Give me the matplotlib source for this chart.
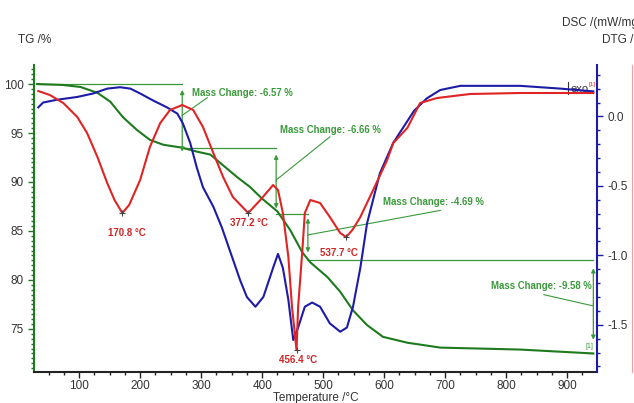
import matplotlib
matplotlib.use("Agg")
import matplotlib.pyplot as plt
from matplotlib.ticker import MultipleLocator, FormatStrFormatter

plt.rcParams['font.family'] = ['Liberation Sans', 'DejaVu Sans']

# TG curve (mass %, left axis)
temp_tg = [31, 74, 102, 130, 151, 172, 195, 216, 238, 269, 293, 315, 336, 359, 380, 400,
           425, 446, 466, 479, 507, 528, 549, 572, 598, 638, 692, 823, 943]
tg = [100.0, 99.9, 99.7, 99.1, 98.2, 96.6, 95.3, 94.3, 93.8, 93.5, 93.1, 92.8, 91.7,
      90.5, 89.5, 88.3, 87.0, 85.1, 82.8, 81.8, 80.3, 78.8, 76.9, 75.4, 74.2, 73.6,
      73.1, 72.9, 72.5]

# DSC curve (mW/mg, right axis)
temp_dsc = [33, 41, 64, 97, 123, 146, 167, 184, 200, 221, 244, 261, 270, 282, 293, 303,
            320, 334, 364, 375, 389, 402, 418, 426, 434, 443, 451, 459, 470, 482, 495,
            511, 528, 539, 549, 561, 572, 593, 615, 649, 670, 692, 725, 823, 889, 943]
dsc = [0.065, 0.10, 0.12, 0.14, 0.165, 0.20, 0.21, 0.20, 0.165, 0.115, 0.065, 0.02,
       -0.05, -0.19, -0.37, -0.51, -0.65, -0.80, -1.18, -1.30, -1.37, -1.30, -1.09,
       -0.99, -1.09, -1.32, -1.61, -1.52, -1.37, -1.34, -1.37, -1.49, -1.55, -1.52,
       -1.37, -1.09, -0.77, -0.41, -0.19, 0.04, 0.13, 0.19, 0.22, 0.22, 0.20, 0.18]

# DTG curve (%/min, outer axis)
temp_dtg = [33, 52, 74, 97, 113, 130, 146, 158, 170.8, 182, 200, 216, 233, 249, 269, 287,
            303, 320, 336, 352, 377.2, 397, 418, 426, 434, 443, 449, 456.4, 459, 466,
            470, 479, 495, 511, 528, 537.7, 548, 561, 582, 605, 615, 638, 659, 687, 741,
            823, 943]
dtg = [0.08, 0.0, -0.16, -0.44, -0.76, -1.24, -1.76, -2.10, -2.36, -2.20, -1.70, -1.04,
       -0.56, -0.30, -0.20, -0.30, -0.64, -1.16, -1.64, -2.04, -2.36, -2.10, -1.80,
       -1.90, -2.36, -3.24, -4.24, -5.10, -4.24, -3.10, -2.36, -2.10, -2.16, -2.44,
       -2.76, -2.84, -2.70, -2.44, -1.90, -1.30, -0.96, -0.66, -0.16, -0.06, 0.02,
       0.04, 0.04]

# DTG peaks
peak_temps = [170.8, 377.2, 456.4, 537.7]
peak_dtg = [-2.36, -2.36, -5.10, -2.84]
peak_offsets = [(5, -20), (1, -10), (2, -10), (-7, -16)]

# mass change steps
step_temps = [269, 423, 475, 943]
mass_changes = [-6.57, -6.66, -4.69, -9.58]

green = '#1e7a1e'
ann_green = '#3a9a3a'
blue = '#1c1ca8'
red = '#e02424'

fig = plt.figure(figsize=(6.34, 4.03), dpi=100)
ax = fig.add_axes([34 / 634, 1 - 372 / 403, (597 - 34) / 634, (372 - 65) / 403])
ax2 = ax.twinx()
ax3 = ax.twinx()

ax.plot(temp_tg, tg, color=green, lw=1.5, zorder=3)
ax2.plot(temp_dsc, dsc, color=blue, lw=1.5)
ax3.plot(temp_dtg, dtg, color=red, lw=1.5)

ax.set_xlim(26, 949)
ax.set_ylim(70.61, 101.94)
ax2.set_ylim(-1.84, 0.37)
ax3.set_ylim(-5.54, 0.6)

# axis styling
for s in ['top', 'right']:
    ax.spines[s].set_visible(False)
ax.spines['left'].set_color(green)
ax.spines['left'].set_linewidth(1.5)
ax.spines['bottom'].set_color('#222222')
ax.spines['bottom'].set_linewidth(1.5)
for s in ['top', 'left', 'bottom']:
    ax2.spines[s].set_visible(False)
    ax3.spines[s].set_visible(False)
ax2.spines['right'].set_color(blue)
ax2.spines['right'].set_linewidth(1.5)
ax3.spines['right'].set_position(('axes', (632 - 34) / (597 - 34)))
ax3.spines['right'].set_color('#f2a0a0')
ax3.set_yticks([])

ax.xaxis.set_major_locator(MultipleLocator(100))
ax.xaxis.set_minor_locator(MultipleLocator(25))
ax.set_yticks([75, 80, 85, 90, 95, 100])
ax.yaxis.set_minor_locator(MultipleLocator(0.5))
ax2.set_yticks([0.0, -0.5, -1.0, -1.5])
ax2.yaxis.set_minor_locator(MultipleLocator(0.1))
ax2.yaxis.set_major_formatter(FormatStrFormatter('%.1f'))

ax.tick_params(axis='x', which='major', length=4, width=1, pad=2, labelsize=8.5,
               colors='#222222', labelcolor='#333333')
ax.tick_params(axis='x', which='minor', length=2, width=1, colors='#222222')
ax.tick_params(axis='y', which='major', length=4, width=1, labelsize=8.5,
               colors=green, labelcolor='#333333')
ax.tick_params(axis='y', which='minor', length=2, width=1, colors=green)
ax2.tick_params(axis='y', which='major', length=4, width=1, labelsize=8.5,
                colors=blue, labelcolor='#333333')
ax2.tick_params(axis='y', which='minor', length=2, width=1, colors=blue)

fig.text(18 / 634, 1 - 40 / 403, 'TG /%', fontsize=8.5, color='#333333', va='center')
fig.text(562 / 634, 1 - 23 / 403, 'DSC /(mW/mg)', fontsize=8.5, color='#333333', va='center')
fig.text(602 / 634, 1 - 40 / 403, 'DTG /(%/min)', fontsize=8.5, color='#333333', va='center')
fig.text(316 / 634, 1 - 392 / 403, 'Temperature /\u00b0C', fontsize=8.5, color='#333333',
         ha='center', va='top')

# mass change construction lines
levels = [100.0]
for mc in mass_changes:
    levels.append(round(levels[-1] + mc, 2))
line_kw = dict(color=ann_green, lw=0.9, zorder=2)
ax.plot([33, step_temps[0]], [levels[0], levels[0]], **line_kw)
ax.plot([step_temps[0], step_temps[1]], [levels[1], levels[1]], **line_kw)
ax.plot([step_temps[1], step_temps[2]], [levels[2], levels[2]], **line_kw)
ax.plot([step_temps[2], step_temps[3]], [levels[3], levels[3]], **line_kw)
ax.plot([step_temps[3] - 8, step_temps[3]], [levels[4], levels[4]], **line_kw)

arrow_spans = [(99.4, 93.1), (92.8, 87.3), (86.3, 82.8), (81.2, 73.9)]
leaders = [((269, 96.8), (310, 98.6)), ((423, 90.2), (511, 94.6)),
           ((475, 84.6), (692, 87.1)), ((943, 77.35), (862, 78.5))]
text_pos = [(285, 99.1, 'left'), (430, 95.3, 'left'), (598, 88.0, 'left'), (941, 79.4, 'right')]
for t, (y1, y2), (p0, p1), (tx, ty, ha), mc in zip(step_temps, arrow_spans, leaders,
                                                    text_pos, mass_changes):
    mid = (y1 + y2) / 2
    for yend in (y1, y2):
        ax.annotate('', xy=(t, yend), xytext=(t, mid),
                    arrowprops=dict(arrowstyle='-|>', color=ann_green, lw=0.9,
                                    mutation_scale=6, shrinkA=0, shrinkB=0))
    ax.plot([p0[0], p1[0]], [p0[1], p1[1]], color=ann_green, lw=0.8)
    ax.text(tx, ty, 'Mass Change: %.2f %%' % mc, fontsize=6.9, fontweight='bold',
            color=ann_green, ha=ha, va='center')

ax.text(936, 73.2, '[1]', fontsize=5, color=ann_green, ha='center', va='center')

# DTG peak temperatures
ax3.plot(peak_temps, peak_dtg, '+', color='#444444', ms=5, mew=0.8)
for pt, pv, off in zip(peak_temps, peak_dtg, peak_offsets):
    ax3.annotate('%.1f \u00b0C' % pt, xy=(pt, pv), xytext=off, textcoords='offset pixels',
                 fontsize=7, fontweight='bold', color='#d02424',
                 ha='center', va='center')

# exo marker
ax.plot([902, 902], [99.0, 100.2], color='#333333', lw=0.8)
ax.text(905, 99.5, 'exo', fontsize=8, color='#333333', va='center')
ax.text(935, 99.9, '[1]', fontsize=4.5, color=red, va='center')

fig.savefig('out.png', dpi=100)
